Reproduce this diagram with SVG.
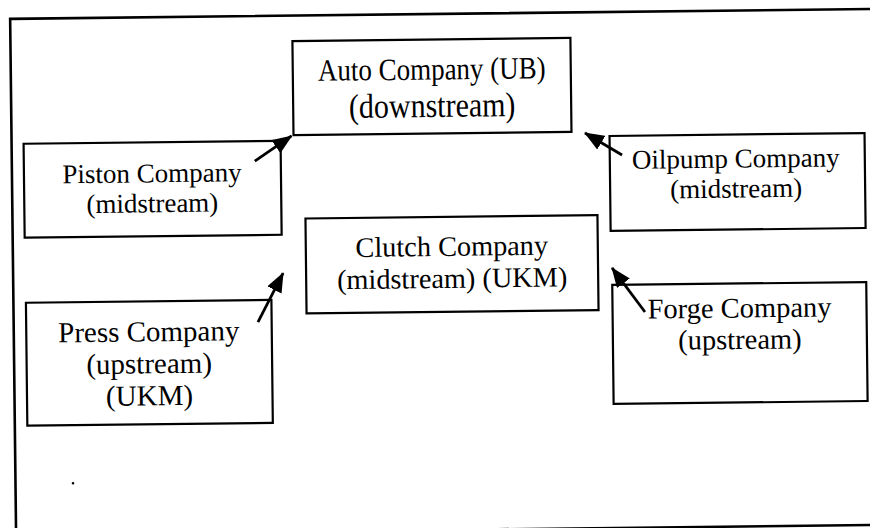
<svg xmlns="http://www.w3.org/2000/svg" width="870" height="528" viewBox="0 0 870 528">
<style>
  .box { fill: #ffffff; stroke: #000000; stroke-width: 2.2; }
  .frame { fill: none; stroke: #000000; stroke-width: 2.6; }
  .lbl { font-family: "Liberation Serif", "Times New Roman", serif; fill: #000000; text-anchor: middle; }
  .conn { stroke: #000000; stroke-width: 2.8; fill: none; marker-end: url(#head); }
</style>
<defs>
  <marker id="head" markerUnits="userSpaceOnUse" viewBox="0 0 20 16" markerWidth="20" markerHeight="16" refX="19" refY="8" orient="auto">
    <path d="M0,0 L20,8 L0,16 z" fill="#000000"/>
  </marker>
</defs>
<rect width="870" height="528" fill="#ffffff"/>
<g transform="rotate(-0.66 435 264)">
  <rect class="frame" x="13" y="14" width="900" height="516"/>
  <circle cx="70.5" cy="479" r="1.3" fill="#000000"/>

  <g id="auto">
    <rect class="box" x="295" y="39.5" width="278" height="94"/>
    <text class="lbl" font-size="27" transform="translate(434 79.5) scale(1 1.15)">Auto Company (UB)</text>
    <text class="lbl" font-size="30" transform="translate(434 117) scale(1 1.15)">(downstream)</text>
  </g>

  <g id="piston">
    <rect class="box" x="25" y="139" width="257" height="94"/>
    <text class="lbl" font-size="27" x="153" y="179">Piston Company</text>
    <text class="lbl" font-size="27" x="153" y="209">(midstream)</text>
  </g>

  <g id="oilpump">
    <rect class="box" x="611" y="138" width="255" height="95"/>
    <text class="lbl" font-size="27" x="737" y="171">Oilpump Company</text>
    <text class="lbl" font-size="27" x="737" y="201">(midstream)</text>
  </g>

  <g id="clutch">
    <rect class="box" x="306" y="217" width="292" height="95"/>
    <text class="lbl" font-size="28.3" x="452" y="256">Clutch Company</text>
    <text class="lbl" font-size="28.3" x="452" y="288">(midstream) (UKM)</text>
  </g>

  <g id="press">
    <rect class="box" x="25.5" y="298" width="245.5" height="123"/>
    <text class="lbl" font-size="29" x="148" y="338">Press Company</text>
    <text class="lbl" font-size="29" x="148" y="370">(upstream)</text>
    <text class="lbl" font-size="29" x="148" y="402">(UKM)</text>
  </g>

  <g id="forge">
    <rect class="box" x="612" y="287" width="254" height="119"/>
    <text class="lbl" font-size="28.5" x="739" y="321">Forge Company</text>
    <text class="lbl" font-size="28.5" x="739" y="352.5">(upstream)</text>
  </g>

  <g id="connectors">
    <line class="conn" x1="256" y1="159" x2="293" y2="134.3"/>
    <line class="conn" x1="257.3" y1="320" x2="283" y2="271.3"/>
    <line class="conn" x1="623.3" y1="157.2" x2="586.5" y2="134.7"/>
    <line class="conn" x1="644.4" y1="314.4" x2="612" y2="270"/>
  </g>
</g>
</svg>
